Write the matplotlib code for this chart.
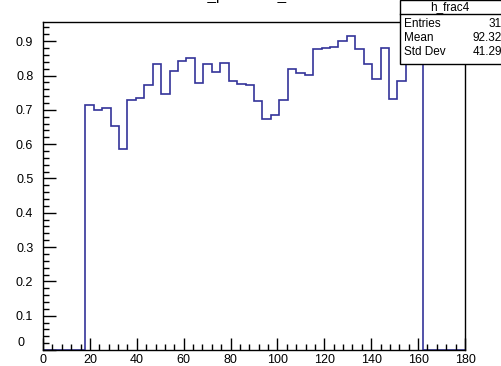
import matplotlib
matplotlib.use("Agg")
import matplotlib.pyplot as plt
import numpy as np
from matplotlib.ticker import MultipleLocator, FuncFormatter
from matplotlib.patches import Rectangle
from matplotlib.lines import Line2D

plt.rcParams['font.family'] = ['Liberation Sans', 'DejaVu Sans']

# histogram: 50 bins from 0 to 180, only bins 5..44 filled
bin_edges = np.linspace(0, 180, 51)
frac_values = [0.0] * 5 + [
    0.715, 0.699, 0.706, 0.652, 0.585, 0.730, 0.735, 0.772, 0.833, 0.745,
    0.812, 0.842, 0.852, 0.779, 0.833, 0.809, 0.836, 0.785, 0.776, 0.772,
    0.726, 0.674, 0.685, 0.728, 0.820, 0.806, 0.802, 0.877, 0.879, 0.884,
    0.902, 0.916, 0.877, 0.833, 0.789, 0.879, 0.732, 0.785, 0.850, 0.880,
] + [0.0] * 5

hist_name = "h_frac4"
stat_labels = ["Entries", "Mean", "Std Dev"]
stat_values = ["31", "92.32", "41.29"]
title_text = "h_pass4 / h_all"

W, H = 501, 366
fig = plt.figure(figsize=(W / 100, H / 100), dpi=100)
fig.patch.set_facecolor("white")

# axes frame in pixel coordinates
left, right, top, bottom = 43, 465, 22, 350
ax = fig.add_axes([left / W, 1 - bottom / H, (right - left) / W, (bottom - top) / H])

ax.stairs(frac_values, bin_edges, color="#333399", linewidth=1.2)

ax.set_xlim(0, 180)
ax.set_ylim(0, 0.956)

ax.xaxis.set_major_locator(MultipleLocator(20))
ax.xaxis.set_minor_locator(MultipleLocator(4))
ax.yaxis.set_major_locator(MultipleLocator(0.1))
ax.yaxis.set_minor_locator(MultipleLocator(0.02))
# the y "0" is drawn by hand below, offset like ROOT does it
ax.yaxis.set_major_formatter(FuncFormatter(lambda v, p: "" if abs(v) < 1e-9 else "%.1f" % v))

ax.tick_params(which="both", direction="in", top=False, right=False, labelsize=9, width=1)
ax.tick_params(which="major", length=9)
ax.tick_params(which="minor", length=4.5)
ax.tick_params(axis="y", pad=7)
ax.tick_params(axis="x", pad=3)
for sp in ax.spines.values():
    sp.set_linewidth(1)
    sp.set_color("black")

fig.text(17 / W, 1 - 343 / H, "0", ha="left", va="center", fontsize=9)

# title, mostly cut off at the top of the canvas
fig.text(0.5, 1.0, title_text, ha="center", va="baseline", fontsize=11)

# stats box
bx0, bx1, by0, by1 = 400, 510, 0, 64
fig.add_artist(Rectangle((bx0 / W, 1 - by1 / H), (bx1 - bx0) / W, (by1 - by0) / H,
                         transform=fig.transFigure, facecolor="white",
                         edgecolor="black", linewidth=1, zorder=5))
sep_y = 1 - 14 / H
fig.add_artist(Line2D([bx0 / W, bx1 / W], [sep_y, sep_y], transform=fig.transFigure,
                      color="black", linewidth=1, zorder=6))
fig.text((bx0 + 50) / W, 1 - 7 / H, hist_name, ha="center", va="center", fontsize=8.5, zorder=7)
for i, (lab, val) in enumerate(zip(stat_labels, stat_values)):
    yy = 1 - (24 + 14 * i) / H
    fig.text((bx0 + 4) / W, yy, lab, ha="left", va="center", fontsize=8.5, zorder=7)
    fig.text(502 / W, yy, val, ha="right", va="center", fontsize=8.5, zorder=7)

fig.savefig("out.png", dpi=100)
